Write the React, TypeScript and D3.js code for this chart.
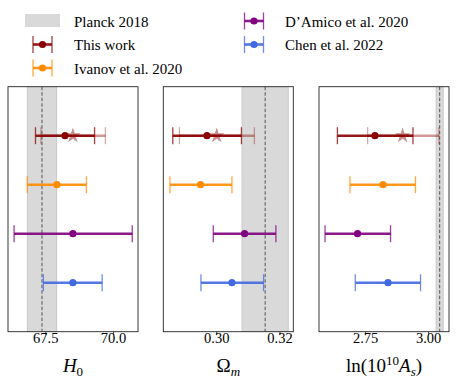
import React from "react";
import * as d3 from "d3";

// studies, top to bottom
const studies = ["This work", "Ivanov et al. 2020", "D\u2019Amico et al. 2020", "Chen et al. 2022"];
const colors = ["#8b0000", "#ff8c00", "#800080", "#4169e1"];

// per parameter: centre, lower, upper
const h0Mid = [68.21, 67.91, 68.5, 68.5];
const h0Lo = [67.12, 66.82, 66.33, 67.41];
const h0Hi = [69.3, 69.0, 70.69, 69.58];
const omMid = [0.2969, 0.2949, 0.3088, 0.3048];
const omLo = [0.2861, 0.2852, 0.2989, 0.295];
const omHi = [0.3078, 0.3048, 0.3187, 0.3148];
const asMid = [2.787, 2.819, 2.718, 2.839];
const asLo = [2.638, 2.688, 2.589, 2.709];
const asHi = [2.938, 2.948, 2.849, 2.968];

// second "This work" estimate (star)
const starMid = [68.5, 0.3, 2.897];
const starLo = [67.32, 0.2882, 2.758];
const starHi = [69.7, 0.3119, 3.041];

// Planck 2018 mean and sigma
const planckMid = [67.36, 0.3153, 3.044];
const planckSig = [0.54, 0.0073, 0.014];

const xDomains: [number, number][] = [[66.106, 70.902], [0.2831, 0.3242], [2.565, 3.081]];
const xTicks = [[67.5, 70.0], [0.3, 0.32], [2.75, 3.0]];
const tickFmt = [d3.format(".1f"), d3.format(".2f"), d3.format(".2f")];

const W = 457, H = 388;
const panelLeft = [8, 163.3, 319];
const panelW = 130;
const top = 86.7, bottom = 331.7;
const font = "'Liberation Serif', 'DejaVu Serif', serif";

const mids = [h0Mid, omMid, asMid];
const los = [h0Lo, omLo, asLo];
const his = [h0Hi, omHi, asHi];

const y = d3.scaleLinear().domain([0, 5]).range([top, bottom]);
const star = d3.symbol().type(d3.symbolStar).size(75)() as string;

function ErrBar({ x0, x1, cx, cy, color, opacity = 1, marker = "dot" }: any) {
  const cap = 8.5;
  return (
    <g>
      <g stroke={color} strokeWidth={2.6} opacity={opacity * 0.9}>
        <line x1={x0} x2={x1} y1={cy} y2={cy} />
      </g>
      <g stroke={color} strokeWidth={1.3} opacity={opacity * 0.75}>
        <line x1={x0} x2={x0} y1={cy - cap} y2={cy + cap} />
        <line x1={x1} x2={x1} y1={cy - cap} y2={cy + cap} />
      </g>
      {marker === "dot" ? (
        <circle cx={cx} cy={cy} r={3.6} fill={color} opacity={opacity} />
      ) : (
        <path d={star} transform={`translate(${cx},${cy})`} fill={color} opacity={opacity} />
      )}
    </g>
  );
}

function Panel({ i }: { i: number }) {
  const x = d3.scaleLinear().domain(xDomains[i]).range([panelLeft[i], panelLeft[i] + panelW]);
  const pl = x(planckMid[i] - planckSig[i]);
  const pr = x(planckMid[i] + planckSig[i]);
  return (
    <g>
      <defs>
        <clipPath id={`clip${i}`}>
          <rect x={panelLeft[i]} y={top} width={panelW} height={bottom - top} />
        </clipPath>
      </defs>
      <g clipPath={`url(#clip${i})`}>
        <rect x={pl} y={top} width={pr - pl} height={bottom - top} fill="#d9d9d9" stroke="#c8c8c8" strokeWidth={1} />
        <line x1={x(planckMid[i])} x2={x(planckMid[i])} y1={top} y2={bottom} stroke="#555" strokeWidth={1} strokeDasharray="3.5,2" />
        <ErrBar x0={x(starLo[i])} x1={x(starHi[i])} cx={x(starMid[i])} cy={y(1)} color={colors[0]} opacity={0.45} marker="star" />
        {studies.map((s, k) => (
          <ErrBar key={s} x0={x(los[i][k])} x1={x(his[i][k])} cx={x(mids[i][k])} cy={y(k + 1)} color={colors[k]} />
        ))}
      </g>
      <rect x={panelLeft[i]} y={top} width={panelW} height={bottom - top} fill="none" stroke="#222" strokeWidth={0.9} />
      {xTicks[i].map((t) => (
        <g key={t}>
          <line x1={x(t)} x2={x(t)} y1={bottom} y2={bottom + 3.5} stroke="#222" strokeWidth={0.8} />
          <text x={x(t)} y={342.5} textAnchor="middle" fontSize={14.5} fontFamily={font}>
            {tickFmt[i](t)}
          </text>
        </g>
      ))}
    </g>
  );
}

export default function App() {
  const cx = (i: number) => panelLeft[i] + panelW / 2;
  const legendRows = [
    { x: 42.5, y: 44.5, tx: 74, k: 0 },
    { x: 42.5, y: 68, tx: 74, k: 1 },
    { x: 254, y: 21, tx: 285, k: 2 },
    { x: 254, y: 44.5, tx: 285, k: 3 },
  ];
  return (
    <svg width={W} height={H} style={{ position: "absolute", left: 0, top: 0, background: "#fff" }}>
      {[0, 1, 2].map((i) => (
        <Panel key={i} i={i} />
      ))}
      {/* legend */}
      <rect x={25} y={14} width={35} height={13} fill="#d9d9d9" />
      <text x={74} y={26.5} fontSize={15} fontFamily={font}>Planck 2018</text>
      {legendRows.map((r) => (
        <g key={r.k}>
          <ErrBar x0={r.x - 9.5} x1={r.x + 9.5} cx={r.x} cy={r.y} color={colors[r.k]} />
          <text x={r.tx} y={r.y + 5.5} fontSize={15} fontFamily={font}>{studies[r.k]}</text>
        </g>
      ))}
      {/* axis labels */}
      <text x={cx(0)} y={372} textAnchor="middle" fontSize={19} fontFamily={font}>
        <tspan fontStyle="italic">H</tspan>
        <tspan fontSize={13} dy={4}>0</tspan>
      </text>
      <text x={cx(1)} y={372} textAnchor="middle" fontSize={19} fontFamily={font}>
        <tspan>{"\u03a9"}</tspan>
        <tspan fontSize={13} dy={4} fontStyle="italic">m</tspan>
      </text>
      <text x={cx(2)} y={372} textAnchor="middle" fontSize={19} fontFamily={font}>
        <tspan>ln(10</tspan>
        <tspan fontSize={13} dy={-7}>10</tspan>
        <tspan fontStyle="italic" dy={7}>A</tspan>
        <tspan fontSize={13} fontStyle="italic" dy={4}>s</tspan>
        <tspan dy={-4}>)</tspan>
      </text>
    </svg>
  );
}
